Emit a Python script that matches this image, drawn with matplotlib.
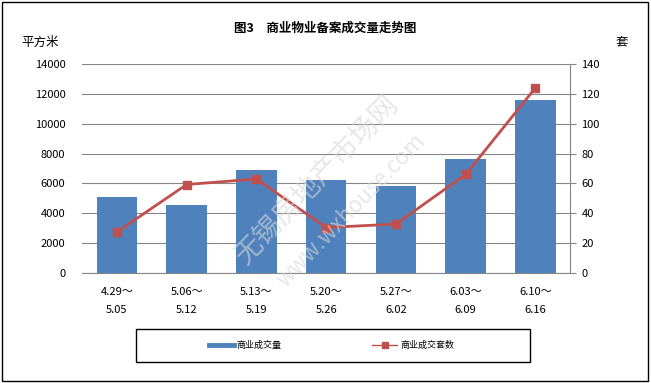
import matplotlib.pyplot as plt
from matplotlib.patches import Rectangle
from matplotlib.lines import Line2D

plt.rcParams['font.family'] = ['Noto Sans CJK SC', 'DejaVu Sans']

weeks = ['4.29～\n5.05', '5.06～\n5.12', '5.13～\n5.19', '5.20～\n5.26',
         '5.27～\n6.02', '6.03～\n6.09', '6.10～\n6.16']
area = [5120, 4570, 6870, 6200, 5800, 7650, 11600]   # 平方米
units = [27.5, 59.3, 63, 30.5, 32.8, 66, 124]         # 套

fig = plt.figure(figsize=(6.51, 3.83), dpi=100)
ax = fig.add_axes([0.126, 0.287, 0.750, 0.546])
ax2 = ax.twinx()

x = list(range(len(weeks)))
ax.bar(x, area, width=0.58, color='#4F81BD', zorder=3)
ax2.plot(x, units, color='#C0504D', lw=2, marker='s', ms=6, zorder=4)

ax.set_xlim(-0.5, len(weeks) - 0.5)
ax.set_ylim(0, 14000)
ax.set_yticks(range(0, 14001, 2000))
ax2.set_ylim(0, 140)
ax2.set_yticks(range(0, 141, 20))
ax.set_xticks(x)
ax.set_xticklabels(weeks, fontsize=8, linespacing=2.0)
ax.tick_params(axis='x', length=0, pad=10)
ax.tick_params(axis='y', length=0, labelsize=8, pad=12)
ax2.tick_params(axis='y', length=4, color='#868686', labelsize=8, pad=4)

ax.grid(axis='y', color='#868686', lw=0.8, zorder=0)
for s in ['top', 'left', 'right']:
    ax.spines[s].set_visible(False)
    ax2.spines[s].set_visible(False)
ax.spines['bottom'].set_color('#868686')
ax2.spines['bottom'].set_visible(False)
ax2.spines['right'].set_visible(True)
ax2.spines['right'].set_color('#868686')

fig.text(0.5, 0.925, '图3　商业物业备案成交量走势图', ha='center', va='center',
         fontsize=9, fontweight='bold')
fig.text(0.062, 0.89, '平方米', ha='center', va='center', fontsize=9)
fig.text(0.955, 0.89, '套', ha='center', va='center', fontsize=9)

# watermark
fig.text(0.488, 0.53, '无锡房地产市场网', rotation=46, fontsize=20, color='#d8d8d8',
         alpha=0.6, ha='center', va='center', zorder=10)
fig.text(0.54, 0.45, 'www.wxhouse.com', rotation=46, fontsize=16, color='#d8d8d8',
         alpha=0.6, ha='center', va='center', zorder=10)

# legend box
fig.patches.append(Rectangle((0.209, 0.055), 0.605, 0.086, transform=fig.transFigure,
                             fill=False, edgecolor='black', lw=1))
handles = [Line2D([], [], color='#4F81BD', lw=3.5),
           Line2D([], [], color='#C0504D', lw=1, marker='s', ms=4)]
fig.legend(handles, ['商业成交量', '商业成交套数'], loc='center',
           bbox_to_anchor=(0.509, 0.098), ncol=2, frameon=False, fontsize=6.5,
           handlelength=2.8, handletextpad=0.3, columnspacing=10)

fig.patches.append(Rectangle((0.003, 0.005), 0.993, 0.99, transform=fig.transFigure,
                             fill=False, edgecolor='black', lw=1))

fig.savefig('out.png', dpi=100)
